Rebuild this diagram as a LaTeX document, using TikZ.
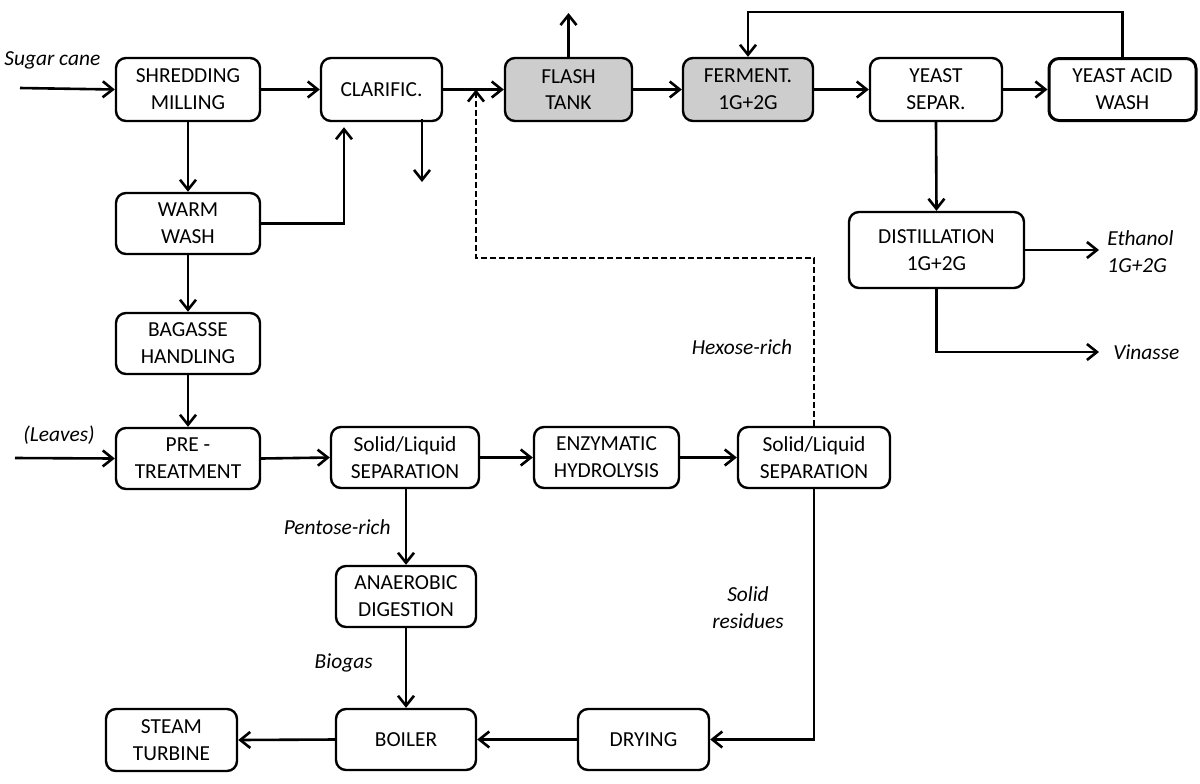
\documentclass[tikz,border=0pt]{standalone}
\usepackage{fontspec}
\setmainfont{Carlito}
\usetikzlibrary{arrows.meta}
\definecolor{boxgray}{RGB}{205,205,205}
\tikzset{
  proc/.style={draw=black, line width=1.2pt, rounded corners=5pt, align=center,
    inner sep=0pt, font=\fontsize{10.7}{13.4}\selectfont, fill=white},
  grayproc/.style={proc, fill=boxgray},
  flow/.style={line width=1.3pt, -{Straight Barb[length=5pt,width=8pt,line width=1.3pt]}},
  lab/.style={font=\fontsize{10.7}{13.4}\selectfont\itshape, inner sep=0pt, align=left}
}
\begin{document}
\begin{tikzpicture}[x=0.5pt,y=-0.5pt]
\useasboundingbox (0,0) rectangle (1200,783);
% boxes
\node[proc, minimum width=72pt, minimum height=31.5pt] (shred) at (188,89.5) {SHREDDING\\MILLING};
\node[proc, minimum width=60.5pt, minimum height=31.5pt] (clar) at (381.5,89.5) {CLARIFIC.};
\node[grayproc, minimum width=63.5pt, minimum height=31.5pt] (flash) at (568.5,89.5) {FLASH\\TANK};
\node[grayproc, minimum width=65pt, minimum height=31.5pt] (ferm) at (748,89.5) {FERMENT.\\1G+2G};
\node[proc, minimum width=66pt, minimum height=31.5pt] (ysep) at (936,89.5) {YEAST\\SEPAR.};
\node[proc, line width=1.5pt, minimum width=73.5pt, minimum height=31pt] (yacid) at (1122.5,89.5) {YEAST ACID\\WASH};
\node[proc, minimum width=72pt, minimum height=30.5pt] (warm) at (188,223.5) {WARM\\WASH};
\node[proc, minimum width=72pt, minimum height=30.5pt] (bag) at (188,343.5) {BAGASSE\\HANDLING};
\node[proc, minimum width=72pt, minimum height=30.5pt] (pre) at (188,458.5) {PRE -\\TREATMENT};
\node[proc, minimum width=74pt, minimum height=30.5pt] (sl1) at (405,457.5) {Solid/Liquid\\SEPARATION};
\node[proc, minimum width=72.5pt, minimum height=30.5pt] (enz) at (606.5,457.5) {ENZYMATIC\\HYDROLYSIS};
\node[proc, minimum width=76pt, minimum height=30.5pt] (sl2) at (814,457.5) {Solid/Liquid\\SEPARATION};
\node[proc, minimum width=87.5pt, minimum height=38pt] (dist) at (936.5,250) {DISTILLATION\\1G+2G};
\node[proc, minimum width=70pt, minimum height=30.5pt] (anaer) at (406,596.5) {ANAEROBIC\\DIGESTION};
\node[proc, minimum width=70pt, minimum height=30.5pt] (boiler) at (406,739.5) {BOILER};
\node[proc, minimum width=65.5pt, minimum height=30.5pt] (dry) at (643.5,739.5) {DRYING};
\node[proc, minimum width=65.5pt, minimum height=31pt] (steam) at (171.5,740) {STEAM\\TURBINE};
% free-end coordinates
\coordinate (canein) at (20,88);
\coordinate (leavesin) at (15,458);
\coordinate (clarout) at (422,182);
\coordinate (flashout) at (568.5,13);
\coordinate (ethout) at (1099,250);
\coordinate (vinout) at (1099,352);
\coordinate (fbtop) at (1122.5,12);
\coordinate (warmturn) at (344,223.5);
\coordinate (hexcorner) at (814,258);
\coordinate (hexup) at (476,258);
\coordinate (hextip) at (476,89.5);
% labels
\node[lab, anchor=west] (lcane) at (4,60) {Sugar cane};
\node[lab, anchor=west] (lleaves) at (23,435) {(Leaves)};
\node[lab, anchor=west] (leth) at (1107,252) {Ethanol\\1G+2G};
\node[lab, anchor=west] (lvin) at (1113,352) {Vinasse};
\node[lab, anchor=center] (lhex) at (742,347) {Hexose-rich};
\node[lab, anchor=east] (lpent) at (391,527) {Pentose-rich};
\node[lab, anchor=east] (lbio) at (373,663) {Biogas};
\node[lab, align=center, font=\fontsize{10.7}{13.5}\selectfont\itshape] (lres) at (748,608) {Solid\\residues};
% connectors
\draw[flow] (canein) -- (shred.west);
\draw[flow] (shred.east) -- (clar.west);
\draw[flow] (clar.east) -- (flash.west);
\draw[flow] (clarout |- clar.south) ++(0,-3) -- (clarout);
\draw[flow] (flash.north) -- (flashout);
\draw[flow] (flash.east) -- (ferm.west);
\draw[flow] (ferm.east) -- (ysep.west);
\draw[flow] (ysep.east) -- (yacid.west);
\draw[flow] (yacid.north) -- (fbtop) -| (ferm.north);
\draw[flow] (ysep.south) -- (dist.north);
\draw[flow] (dist.east) -- (ethout);
\draw[flow] (dist.south) |- (vinout);
\draw[flow] (shred.south) -- (warm.north);
\draw[flow, shorten >=2.5pt] (warm.east) -- (warmturn) -- (warmturn |- clar.south);
\draw[flow] (warm.south) -- (bag.north);
\draw[flow] (bag.south) -- (pre.north);
\draw[flow] (leavesin) -- (pre.west);
\draw[flow] (pre.east) -- (sl1.west);
\draw[flow] (sl1.east) -- (enz.west);
\draw[flow] (enz.east) -- (sl2.west);
\draw[flow, dash pattern=on 3pt off 1.5pt] (sl2.north) -- (hexcorner) -- (hexup) -- (hextip);
\draw[flow] (anaer.north |- sl1.south) -- (anaer.north);
\draw[flow] (anaer.south) -- (boiler.north);
\draw[flow] (boiler.west) -- (steam.east);
\draw[flow] (sl2.south) |- (dry.east);
\draw[flow] (dry.west) -- (boiler.east);
\end{tikzpicture}
\end{document}
